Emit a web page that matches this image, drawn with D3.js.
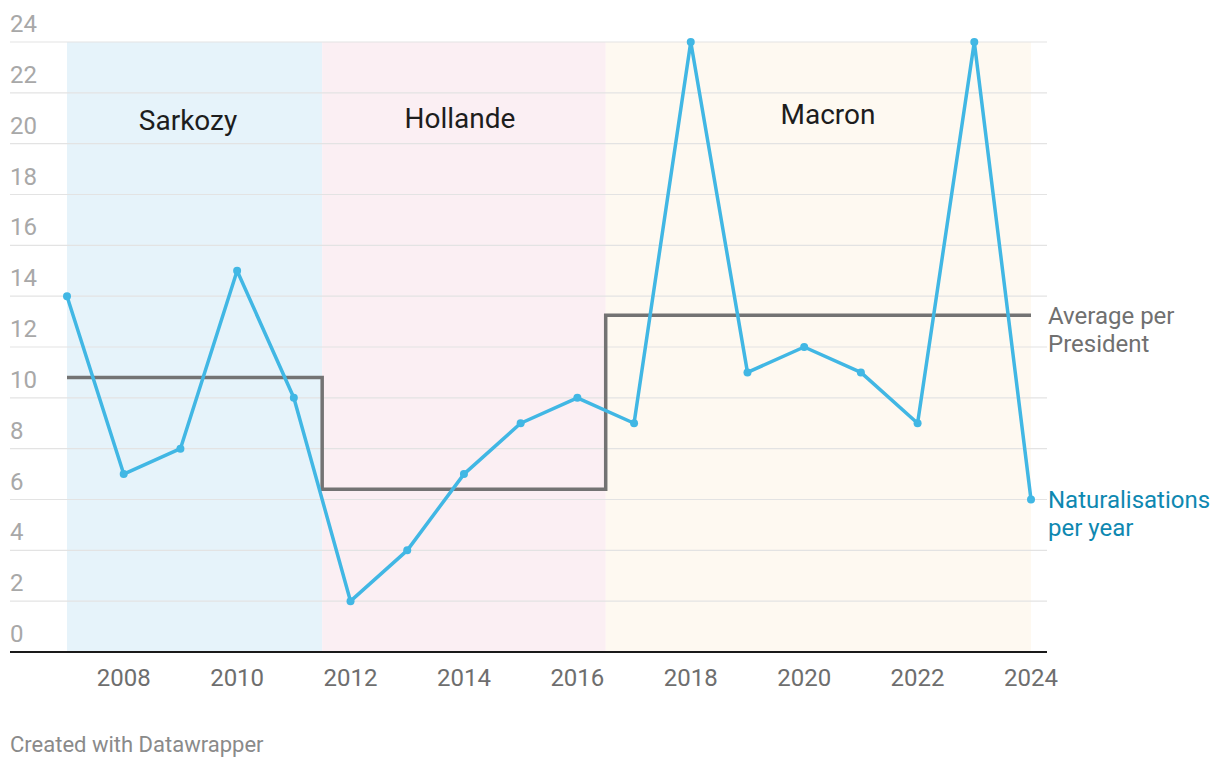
<!DOCTYPE html>
<html>
<head>
<meta charset="utf-8">
<script src="https://cdn.jsdelivr.net/npm/d3@7"></script>
<style>
  html, body { margin: 0; padding: 0; background: #fff; }
  svg { display: block; font-family: Roboto, "Open Sans", sans-serif; }
</style>
</head>
<body>
<svg id="chart" width="1220" height="768"></svg>
<script>
// Naturalisations per year, with averages per president

const years = [2007, 2008, 2009, 2010, 2011, 2012, 2013, 2014, 2015, 2016,
  2017, 2018, 2019, 2020, 2021, 2022, 2023, 2024];
const naturalisations = [14, 7, 8, 15, 10, 2, 4, 7, 9, 10, 9, 24, 11, 12, 11, 9, 24, 6];

const presidents = ["Sarkozy", "Hollande", "Macron"];
const termStart = [2007, 2011.5, 2016.5];
const termEnd = [2011.5, 2016.5, 2024];
const presidentAverage = [10.8, 6.4, 13.25];

const yTicks = [0, 2, 4, 6, 8, 10, 12, 14, 16, 18, 20, 22, 24];
const xTicks = [2008, 2010, 2012, 2014, 2016, 2018, 2020, 2022, 2024];

const bandColors = ["#e6f3fa", "#fbeff3", "#fef9f1"];
const LINE = "#41b7e4", AVG = "#737373";

const svg = d3.select("#chart");
const LEFT = 10, RIGHT = 1047, TOP = 42, BASE = 652;

const x = d3.scaleLinear().domain([2007, 2024]).range([67, 1031]);
const y = d3.scaleLinear().domain([0, 24]).range([BASE, TOP]);

// president bands
svg.append("g").selectAll("rect").data(presidents).enter().append("rect")
  .attr("x", (d, i) => x(termStart[i]))
  .attr("width", (d, i) => x(termEnd[i]) - x(termStart[i]))
  .attr("y", y(24)).attr("height", y(0) - y(24))
  .attr("fill", (d, i) => bandColors[i]);

// gridlines
svg.append("g").selectAll("line").data(yTicks.filter((t) => t > 0)).enter().append("line")
  .attr("x1", LEFT).attr("x2", RIGHT)
  .attr("y1", (t) => y(t)).attr("y2", (t) => y(t))
  .attr("stroke", "#e3e3e3").attr("stroke-width", 1.2);

// y labels sit above their gridline
svg.append("g").selectAll("text").data(yTicks).enter().append("text")
  .attr("x", LEFT).attr("y", (t) => y(t) - 10)
  .style("font-size", "24px").style("fill", "#a8a8a8")
  .text((t) => t);

// president names
const nameX = [188, 460, 828], nameY = [130, 128, 124];
svg.append("g").selectAll("text").data(presidents).enter().append("text")
  .attr("x", (d, i) => nameX[i]).attr("y", (d, i) => nameY[i])
  .attr("text-anchor", "middle")
  .style("font-size", "28px").style("fill", "#1d1d1d")
  .text((d) => d);

// average step line
const steps = [];
presidents.forEach((p, i) => {
  steps.push([termStart[i], presidentAverage[i]]);
  steps.push([termEnd[i], presidentAverage[i]]);
});
svg.append("path")
  .attr("d", d3.line().x((d) => x(d[0])).y((d) => y(d[1]))(steps))
  .attr("fill", "none").attr("stroke", AVG).attr("stroke-width", 3.5);

// naturalisations line
const pts = years.map((yr, i) => [yr, naturalisations[i]]);
svg.append("path")
  .attr("d", d3.line().x((d) => x(d[0])).y((d) => y(d[1]))(pts))
  .attr("fill", "none").attr("stroke", LINE).attr("stroke-width", 3.5)
  .attr("stroke-linejoin", "round");
svg.append("g").selectAll("circle").data(pts).enter().append("circle")
  .attr("cx", (d) => x(d[0])).attr("cy", (d) => y(d[1])).attr("r", 4)
  .attr("fill", LINE);

// baseline
svg.append("line").attr("x1", LEFT).attr("x2", RIGHT)
  .attr("y1", BASE).attr("y2", BASE)
  .attr("stroke", "#1a1a1a").attr("stroke-width", 2);

// x axis labels
svg.append("g").selectAll("text").data(xTicks).enter().append("text")
  .attr("x", (t) => x(t)).attr("y", BASE + 34)
  .attr("text-anchor", "middle")
  .style("font-size", "24px").style("fill", "#6e6e6e")
  .text((t) => t);

// direct labels
function label(lines, yy, color) {
  const t = svg.append("text").attr("x", 1048).attr("y", yy)
    .style("font-size", "24px").style("fill", color);
  lines.forEach((l, i) => t.append("tspan").attr("x", 1048).attr("dy", i ? 28 : 0).text(l));
}
label(["Average per", "President"], y(presidentAverage[2]) + 9, "#707070");
label(["Naturalisations", "per year"], y(naturalisations[17]) + 8, "#0e88b1");

// footer
svg.append("text").attr("x", LEFT).attr("y", 752)
  .style("font-size", "22px").style("fill", "#8a8a8a")
  .text("Created with Datawrapper");
</script>
</body>
</html>
